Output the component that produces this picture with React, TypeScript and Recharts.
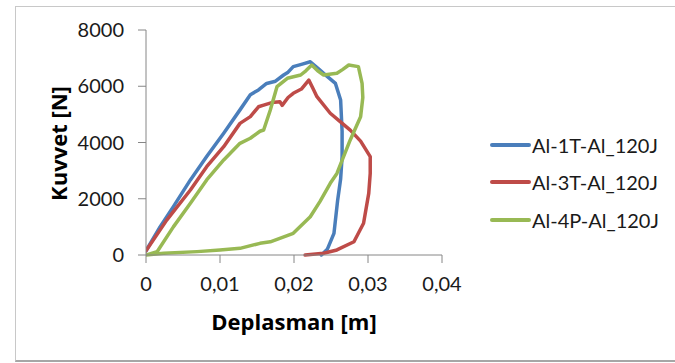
import React from 'react';
import { LineChart, Line, XAxis, YAxis, Label } from 'recharts';

const seriesNames = ['Al-1T-Al_120J', 'Al-3T-Al_120J', 'Al-4P-Al_120J'];
const seriesColors = ['#4A7EBB', '#BE4B48', '#98B954'];

const xTicks = [0, 0.01, 0.02, 0.03, 0.04];
const yTicks = [0, 2000, 4000, 6000, 8000];

const blueX = [0, 0.0019, 0.0037, 0.006, 0.0082, 0.0105, 0.0127, 0.0141, 0.0152, 0.0163, 0.0175, 0.0186, 0.0192, 0.0199, 0.021, 0.0222, 0.0232, 0.024, 0.0256, 0.0263, 0.0265, 0.0265, 0.0263, 0.0259, 0.0254, 0.0245, 0.0237];
const blueY = [150, 1000, 1720, 2670, 3500, 4330, 5160, 5700, 5870, 6100, 6180, 6400, 6500, 6700, 6780, 6870, 6650, 6460, 6100, 5510, 4400, 3500, 2700, 1950, 770, 200, 0];

const redX = [0, 0.0028, 0.006, 0.0082, 0.0105, 0.0127, 0.0141, 0.0152, 0.0159, 0.017, 0.0181, 0.0184, 0.0192, 0.0199, 0.021, 0.022, 0.0226, 0.0231, 0.0249, 0.0262, 0.0276, 0.029, 0.0303, 0.0303, 0.0301, 0.0294, 0.0281, 0.0258, 0.024, 0.0215];
const redY = [150, 1240, 2310, 3140, 3850, 4680, 4920, 5270, 5330, 5420, 5450, 5320, 5600, 5750, 5900, 6220, 5900, 5630, 5040, 4750, 4440, 4050, 3500, 2900, 2190, 1130, 470, 180, 60, 0];

const greenX = [0, 0.0015, 0.0037, 0.006, 0.0082, 0.0105, 0.0127, 0.0141, 0.0154, 0.0159, 0.0168, 0.0177, 0.0191, 0.0209, 0.0216, 0.0224, 0.0232, 0.024, 0.0258, 0.0266, 0.0274, 0.0287, 0.0292, 0.0293, 0.029, 0.0276, 0.0267, 0.0258, 0.0249, 0.0235, 0.0222, 0.0199, 0.0168, 0.0154, 0.0127, 0.01, 0.0069, 0.0024, 0];
const greenY = [0, 118, 1000, 1840, 2670, 3380, 3970, 4150, 4400, 4444, 5156, 5985, 6283, 6400, 6550, 6756, 6550, 6400, 6460, 6600, 6756, 6698, 6104, 5600, 4918, 4090, 3496, 2900, 2550, 1900, 1360, 770, 470, 415, 237, 178, 120, 60, 0];

const toPoints = (xs: number[], ys: number[]) => xs.map((x, i) => ({ x, y: ys[i] }));
const seriesData = [toPoints(blueX, blueY), toPoints(redX, redY), toPoints(greenX, greenY)];

const FONT = 'Lato, "Open Sans", sans-serif';
const TITLE_FONT = '"Open Sans", Lato, sans-serif';
const fmtX = (v: number) => (v === 0 ? '0' : v.toFixed(2).replace('.', ','));

export default function App() {
  return (
    <div style={{ position: 'absolute', left: 0, top: 0, width: 675, height: 363, background: '#fff', fontFamily: FONT, overflow: 'hidden' }}>
      <div style={{ position: 'absolute', left: 15, top: 6, width: 680, height: 356, border: '1px solid #c8c8c8', borderBottom: '2px solid #a6a6a6', boxSizing: 'border-box' }} />
      <div style={{ position: 'absolute', left: 0, top: 0 }}>
        <LineChart width={675} height={363} margin={{ top: 30, right: 233, bottom: 78, left: 86 }}>
          <XAxis
            dataKey="x"
            type="number"
            domain={[0, 0.04]}
            ticks={xTicks}
            tickFormatter={fmtX}
            allowDataOverflow
            height={30}
            stroke="#868686"
            tickSize={8}
            tickMargin={14}
            tick={{ fill: '#1a1a1a', fontSize: 20, fontFamily: FONT }}
          >
            <Label
              value="Deplasman [m]"
              position="bottom"
              offset={29}
              style={{ fontSize: 22, fontWeight: 700, fill: '#000', fontFamily: TITLE_FONT }}
            />
          </XAxis>
          <YAxis
            dataKey="y"
            type="number"
            domain={[0, 8000]}
            ticks={yTicks}
            width={60}
            stroke="#868686"
            tickSize={8}
            tickMargin={14}
            tick={{ fill: '#1a1a1a', fontSize: 20, fontFamily: FONT }}
          >
            <Label
              content={(props: any) => {
                const vb = props.viewBox || { x: 86, y: 30, width: 60, height: 225 };
                const cx = vb.x - 28;
                const cy = vb.y + vb.height / 2 + 1;
                return (
                  <text
                    x={cx}
                    y={cy}
                    transform={`rotate(-90, ${cx}, ${cy})`}
                    textAnchor="middle"
                    dominantBaseline="central"
                    style={{ fontSize: 22, fontWeight: 700, fill: '#000', fontFamily: TITLE_FONT }}
                  >
                    Kuvvet [N]
                  </text>
                );
              }}
            />
          </YAxis>
          {seriesData.map((d, i) => (
            <Line
              key={seriesNames[i]}
              data={d}
              dataKey="y"
              name={seriesNames[i]}
              type="linear"
              stroke={seriesColors[i]}
              strokeWidth={3.5}
              dot={false}
              isAnimationActive={false}
              strokeLinejoin="round"
              strokeLinecap="round"
            />
          ))}
        </LineChart>
      </div>
      <div style={{ position: 'absolute', left: 490, top: 126 }}>
        {seriesNames.map((n, i) => (
          <div key={n} style={{ display: 'flex', alignItems: 'center', height: 37.5 }}>
            <div style={{ width: 41, height: 4, background: seriesColors[i], borderRadius: 2 }} />
            <span style={{ fontSize: 20, color: '#1a1a1a', marginLeft: 1, whiteSpace: 'nowrap' }}>{n}</span>
          </div>
        ))}
      </div>
    </div>
  );
}
